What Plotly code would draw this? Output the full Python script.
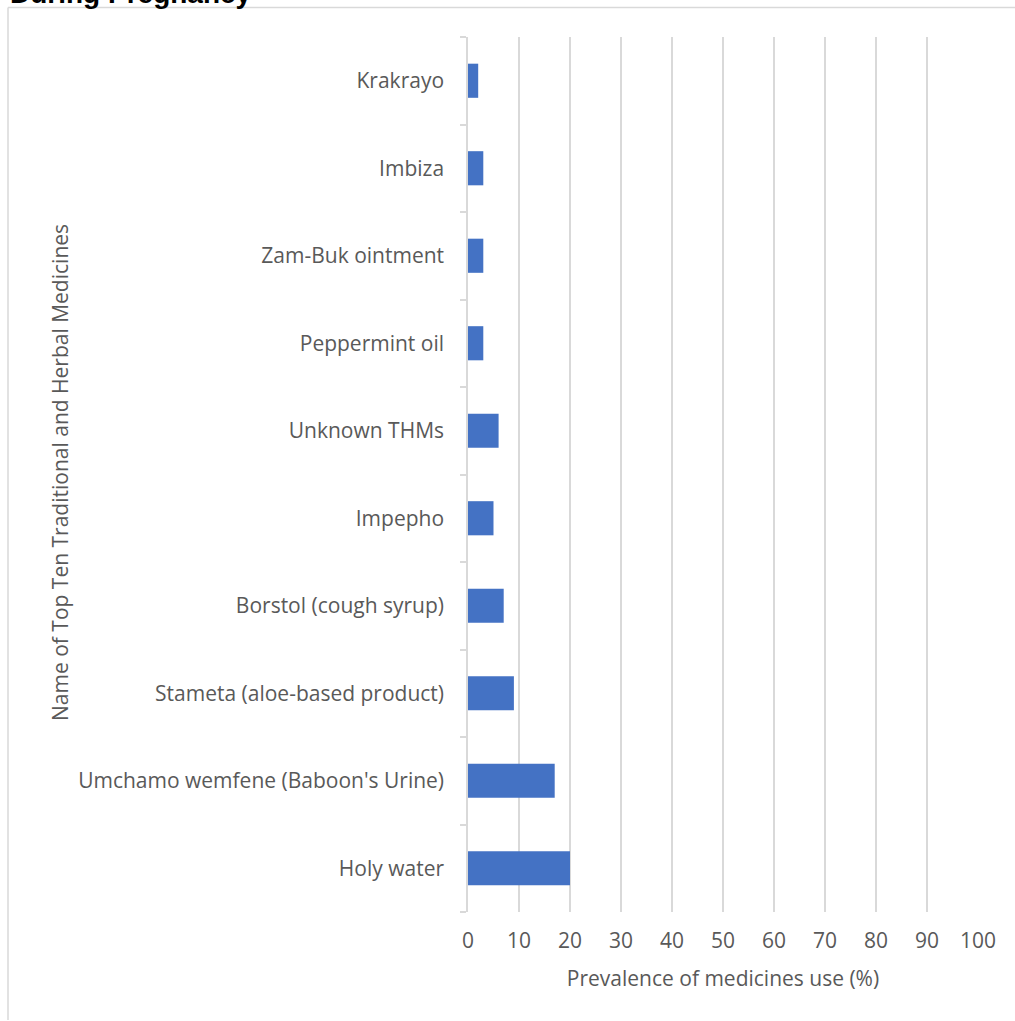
import plotly.graph_objects as go

categories = ["Holy water", "Umchamo wemfene (Baboon's Urine)", "Stameta (aloe-based product)",
              "Borstol (cough syrup)", "Impepho", "Unknown THMs", "Peppermint oil",
              "Zam-Buk ointment", "Imbiza", "Krakrayo"]
values = [20, 17, 9, 7, 5, 6, 3, 3, 3, 2]
x_ticks = [0, 10, 20, 30, 40, 50, 60, 70, 80, 90, 100]

W, H = 1015, 1021
L, R, T, B = 468, 978, 37, 912

def px(x):
    return (x - L) / (R - L)

def py(y):
    return (B - y) / (B - T)

fig = go.Figure(go.Bar(
    x=values, y=categories, orientation="h",
    marker=dict(color="#4472C4", line=dict(width=0)),
    width=0.39,
))

font = "Open Sans, sans-serif"
fs = 21
fig.update_layout(
    width=W, height=H,
    margin=dict(l=L, r=W - R, t=T, b=H - B, autoexpand=False),
    paper_bgcolor="white", plot_bgcolor="white",
    showlegend=False,
    font=dict(family=font, color="#595959", size=fs),
    xaxis=dict(
        range=[0, 100], tickvals=x_ticks, showgrid=True, gridcolor="#d9d9d9", gridwidth=1.5,
        zeroline=False, showline=False, ticks="", tickfont=dict(size=fs, color="#595959"),
        title=dict(text="Prevalence of medicines use (%)", font=dict(size=fs, color="#595959"), standoff=18),
        ticklabelstandoff=14,
    ),
    yaxis=dict(
        categoryorder="array", categoryarray=categories,
        showline=True, linecolor="#d9d9d9", linewidth=1.5,
        ticks="outside", tickson="boundaries", ticklen=6, tickcolor="#d9d9d9", tickwidth=1.5,
        showgrid=False, tickfont=dict(size=fs, color="#595959"), ticklabelstandoff=18,
        range=[-0.5, 9.5],
    ),
    shapes=[
        dict(type="line", xref="paper", yref="paper", x0=px(8), x1=px(1020), y0=py(7.5), y1=py(7.5),
             line=dict(color="#d9d9d9", width=1.5)),
        dict(type="line", xref="paper", yref="paper", x0=px(8), x1=px(8), y0=py(7.5), y1=py(1020),
             line=dict(color="#d9d9d9", width=1.5)),
    ],
    annotations=[
        dict(text="Name of Top Ten Traditional and Herbal Medicines", xref="paper", yref="paper",
             x=px(60), y=py(473), textangle=-90, showarrow=False,
             font=dict(size=fs, color="#595959", family=font), xanchor="center", yanchor="middle"),
        dict(text="<b>During Pregnancy</b>", xref="paper", yref="paper",
             x=px(8), y=py(11), xanchor="left", yanchor="bottom", showarrow=False,
             font=dict(size=28, color="#000000", family="Liberation Sans, Arial, sans-serif")),
    ],
)

fig.write_html("out.html")
